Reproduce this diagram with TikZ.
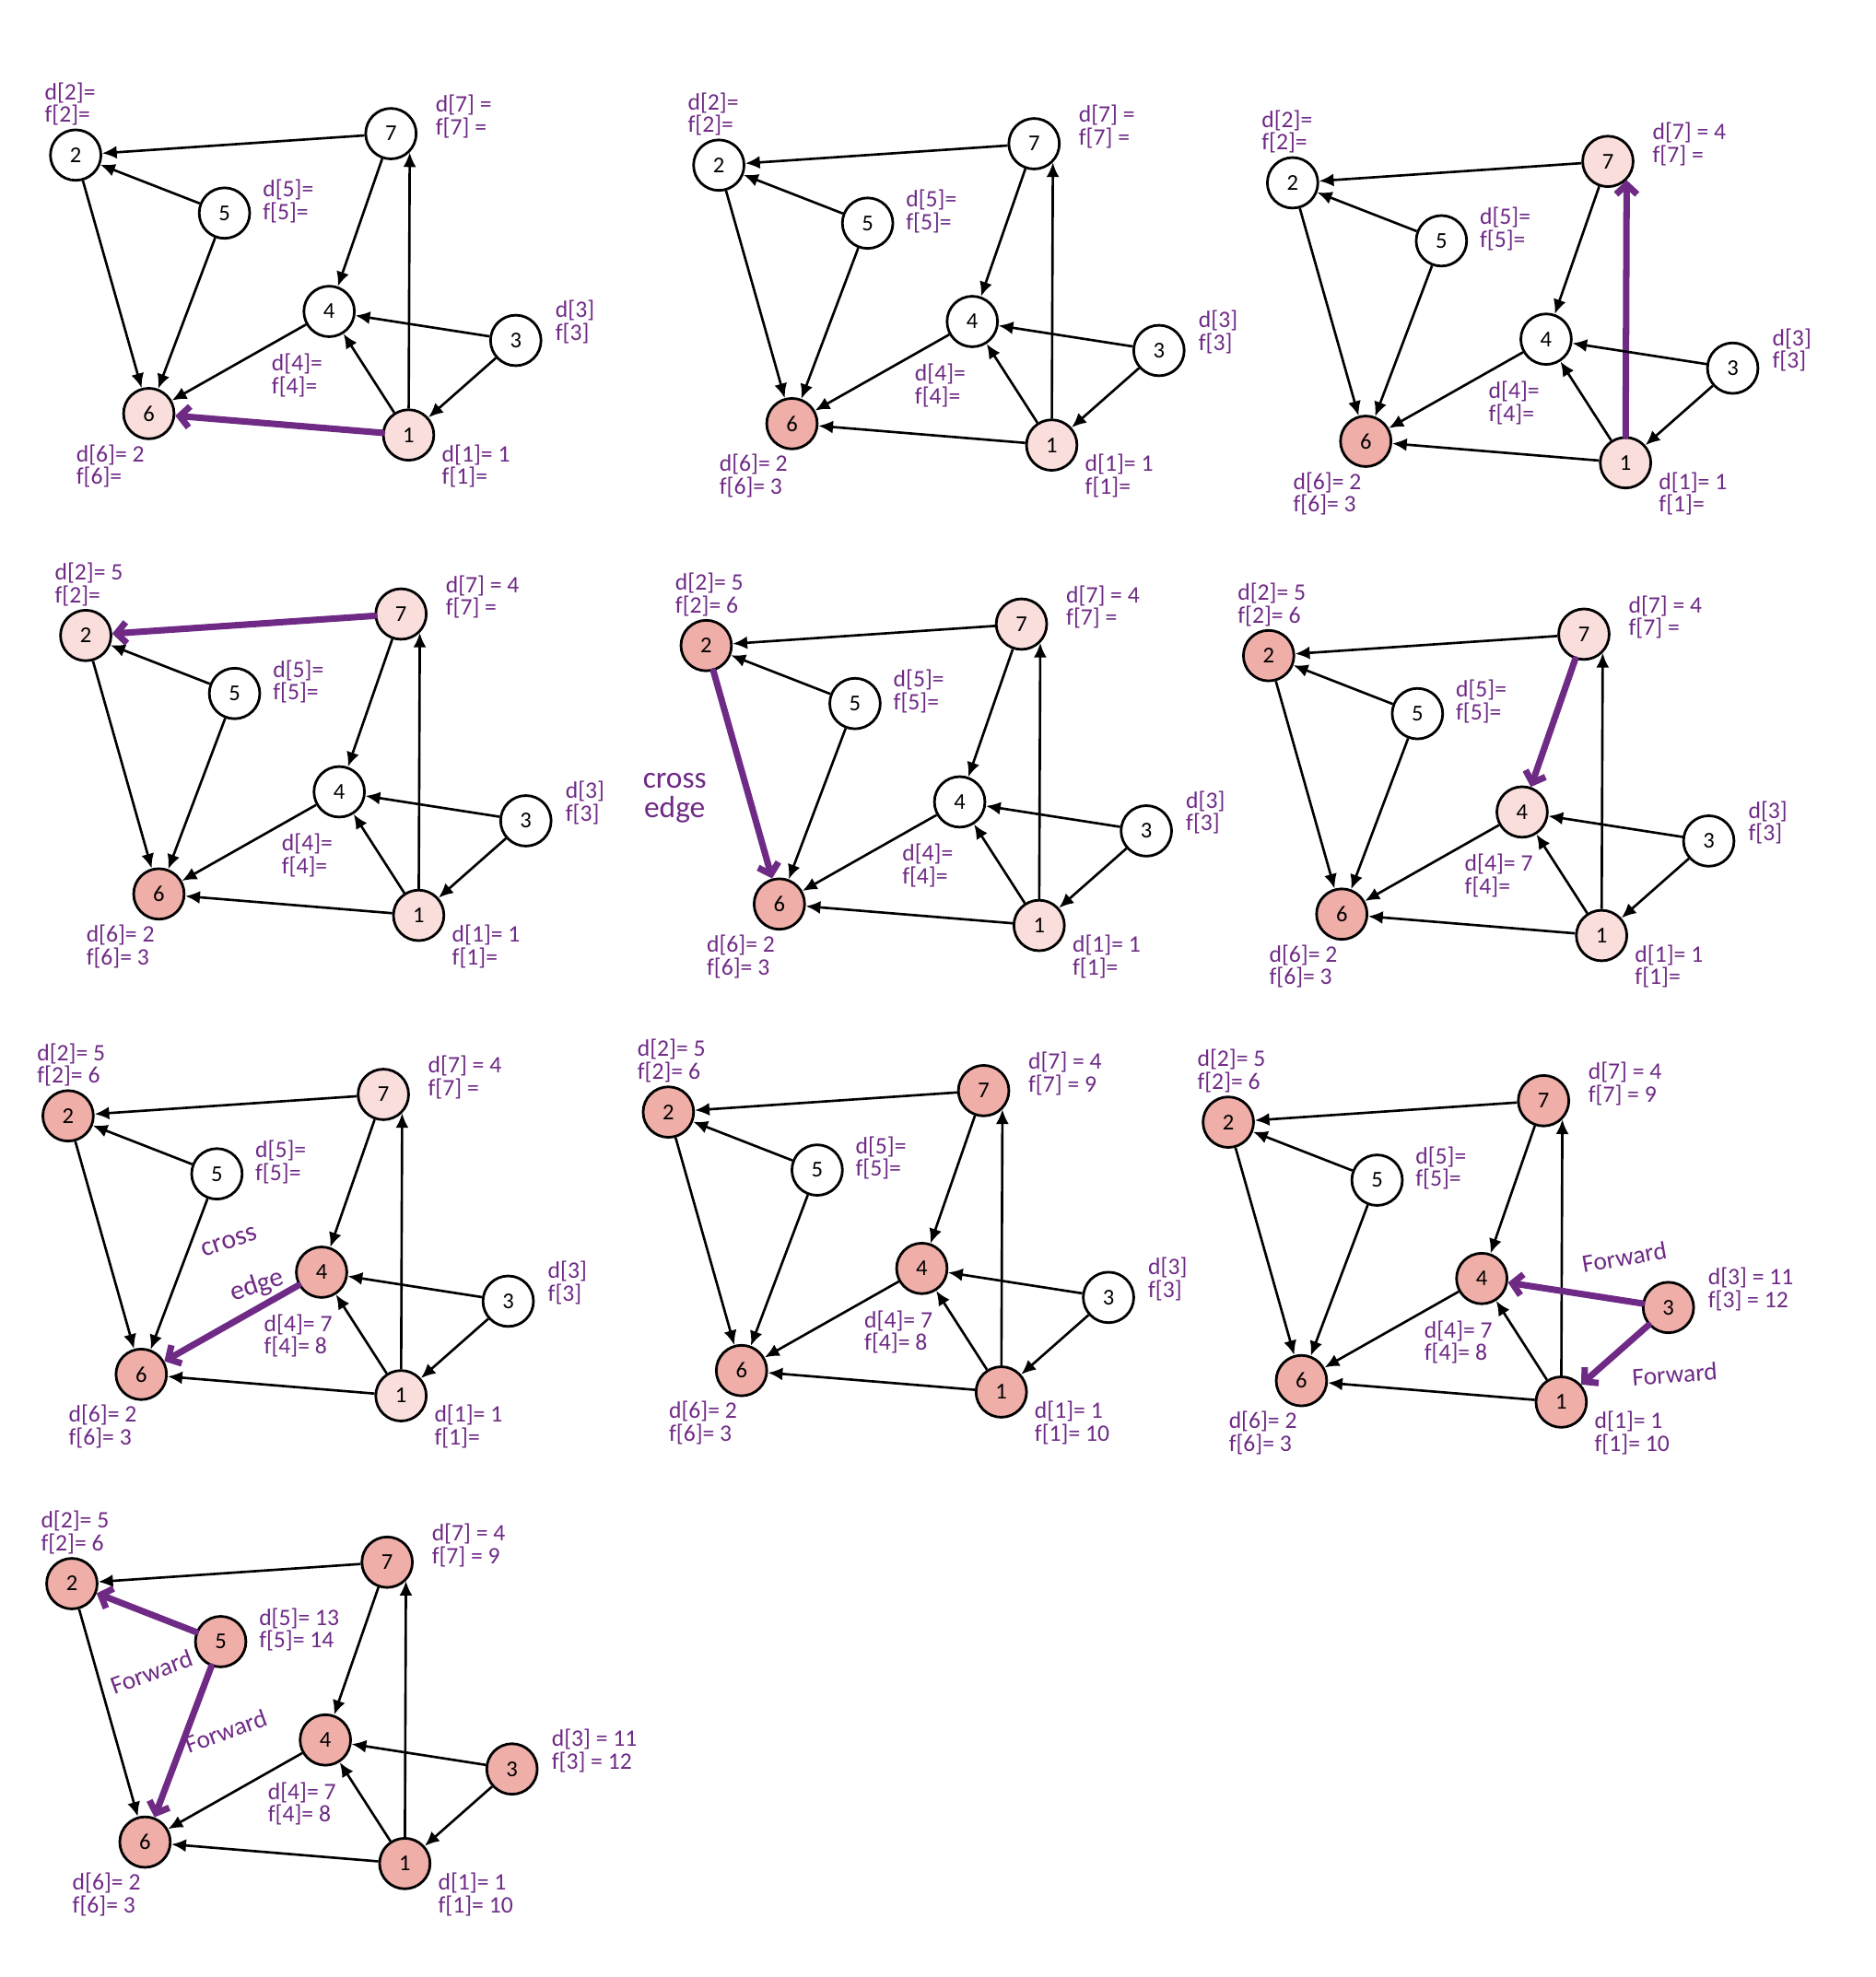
\documentclass[tikz,border=0pt]{standalone}
\usepackage{fontspec}
\setmainfont{Carlito}
\usepackage{xcolor}
\usepackage{tikz}
\usetikzlibrary{arrows.meta}
\definecolor{penpurple}{HTML}{6E2A85}
\definecolor{openpink}{HTML}{F9DEDC}
\definecolor{donepink}{HTML}{EFAEA8}

% d[] and f[] values, set as the search goes on
\newcommand{\setdf}[3]{\expandafter\def\csname dv#1\endcsname{#2}%
  \expandafter\def\csname fv#1\endcsname{#3}}
\newcommand{\dval}[1]{\csname dv#1\endcsname}
\newcommand{\fval}[1]{\csname fv#1\endcsname}

% one copy of the graph, placed from node 2
\newcommand{\dfsgraph}[1]{
  \node[vtx,n2] (#1-2) at (0,0) {2};
  \node[vtx,n7] (#1-7) at (250,-17) {7};
  \node[vtx,n5] (#1-5) at (118,46) {5};
  \node[vtx,n4] (#1-4) at (201,124) {4};
  \node[vtx,n3] (#1-3) at (349,147) {3};
  \node[vtx,n6] (#1-6) at (58,205) {6};
  \node[vtx,n1] (#1-1) at (264,222) {1};
  \draw[e72] (#1-7) -- (#1-2);
  \draw[e52] (#1-5) -- (#1-2);
  \draw[e26] (#1-2) -- (#1-6);
  \draw[e56] (#1-5) -- (#1-6);
  \draw[e74] (#1-7) -- (#1-4);
  \draw[e17] (#1-1) -- (#1-7.-45);
  \draw[e34] (#1-3) -- (#1-4);
  \draw[e31] (#1-3) -- (#1-1);
  \draw[e14] (#1-1) -- (#1-4);
  \draw[e46] (#1-4) -- (#1-6);
  \draw[e16] (#1-1) -- (#1-6);
  \node[lbl] (#1-l2) at (-25,-58) {d[2]= \dval{2}\\f[2]= \fval{2}};
  \node[lbl] (#1-l7) at (285,-48) {d[7] = \dval{7}\\f[7] = \fval{7}};
  \node[lbl] (#1-l5) at (148,19) {d[5]= \dval{5}\\f[5]= \fval{5}};
  \node[lbl] (#1-l3) at (380,115) {d[3]\dval{3}\\f[3]\fval{3}};
  \node[lbl] (#1-l4) at (155,157) {d[4]= \dval{4}\\f[4]= \fval{4}};
  \node[lbl] (#1-l6) at (0,229) {d[6]= \dval{6}\\f[6]= \fval{6}};
  \node[lbl] (#1-l1) at (290,229) {d[1]= \dval{1}\\f[1]= \fval{1}};
}

\begin{document}
\begin{tikzpicture}[
    x=0.013686cm, y=-0.013686cm,
    vtx/.style={circle, draw, line width=0.8pt, minimum size=15.6pt,
                inner sep=0pt, font=\fontsize{7}{7}\selectfont},
    discovered/.style={fill=openpink},
    finished/.style={fill=donepink},
    graphedge/.style={draw=black, line width=0.75pt,
                      -{Latex[length=4.5pt,width=4pt]}},
    treeedge/.style={draw=penpurple, line width=2pt, line cap=round,
                     -{Straight Barb[length=3pt,width=6.5pt]}},
    lbl/.style={anchor=north west, align=left, inner sep=0pt, text=penpurple,
                font=\fontsize{7.3}{7}\selectfont},
    edgenote/.style={align=center, inner sep=0pt, text=penpurple,
                     font=\fontsize{9.5}{9}\selectfont},
    fwdnote/.style={inner sep=0pt, text=penpurple,
                    font=\fontsize{7.8}{8}\selectfont},
    n1/.style={fill=white}, n2/.style={fill=white}, n3/.style={fill=white},
    n4/.style={fill=white}, n5/.style={fill=white}, n6/.style={fill=white},
    n7/.style={fill=white},
    e72/.style=graphedge, e52/.style=graphedge, e26/.style=graphedge,
    e56/.style=graphedge, e74/.style=graphedge, e17/.style=graphedge,
    e34/.style=graphedge, e31/.style=graphedge, e14/.style=graphedge,
    e46/.style=graphedge, e16/.style=graphedge
]
\useasboundingbox (0,0) rectangle (1487,1568);

% step 1
\setdf{1}{1}{}\setdf{6}{2}{}
\tikzset{n1/.style=discovered, n6/.style=discovered}
\begin{scope}[shift={(60,123)}, e16/.style=treeedge]
  \dfsgraph{a}
\end{scope}

% step 2
\setdf{6}{2}{3}
\tikzset{n6/.style=finished}
\begin{scope}[shift={(570,131)}]
  \dfsgraph{b}
\end{scope}

% step 3
\setdf{7}{4}{}
\tikzset{n7/.style=discovered}
\begin{scope}[shift={(1025,145)}, e17/.style=treeedge]
  \dfsgraph{c}
\end{scope}

% step 4
\setdf{2}{5}{}
\tikzset{n2/.style=discovered}
\begin{scope}[shift={(68,504)}, e72/.style=treeedge]
  \dfsgraph{d}
\end{scope}

% step 5
\setdf{2}{5}{6}
\tikzset{n2/.style=finished}
\begin{scope}[shift={(560,512)}, e26/.style=treeedge]
  \dfsgraph{e}
  \node[edgenote] (e-cross) at (-25,121) {cross\\edge};
\end{scope}

% step 6
\setdf{4}{7}{}
\tikzset{n4/.style=discovered}
\begin{scope}[shift={(1006,520)}, e74/.style=treeedge]
  \dfsgraph{f}
\end{scope}

% step 7
\setdf{4}{7}{8}
\tikzset{n4/.style=finished}
\begin{scope}[shift={(54,885)}, e46/.style=treeedge]
  \dfsgraph{g}
  \node[edgenote, font=\fontsize{8.5}{8}\selectfont, rotate=18] (g-cross) at (128,100) {cross};
  \node[edgenote, font=\fontsize{8.5}{8}\selectfont, rotate=18] (g-edge) at (150,135) {edge};
\end{scope}

% step 8
\setdf{7}{4}{9}\setdf{1}{1}{10}
\tikzset{n7/.style=finished, n1/.style=finished}
\begin{scope}[shift={(530,882)}]
  \dfsgraph{h}
\end{scope}

% step 9
\setdf{3}{ = 11}{ = 12}
\tikzset{n3/.style=finished}
\begin{scope}[shift={(974,890)}, e34/.style=treeedge, e31/.style=treeedge]
  \dfsgraph{i}
  \node[fwdnote, rotate=10] (i-fwd1) at (314,107) {Forward};
  \node[fwdnote, rotate=4] (i-fwd2) at (354,200) {Forward};
\end{scope}

% step 10
\setdf{5}{13}{14}
\tikzset{n5/.style=finished}
\begin{scope}[shift={(57,1256)}, e52/.style=treeedge, e56/.style=treeedge]
  \dfsgraph{j}
  \node[fwdnote, rotate=20] (j-fwd1) at (63,70) {Forward};
  \node[fwdnote, rotate=20] (j-fwd2) at (122,117) {Forward};
\end{scope}
\end{tikzpicture}
\end{document}
